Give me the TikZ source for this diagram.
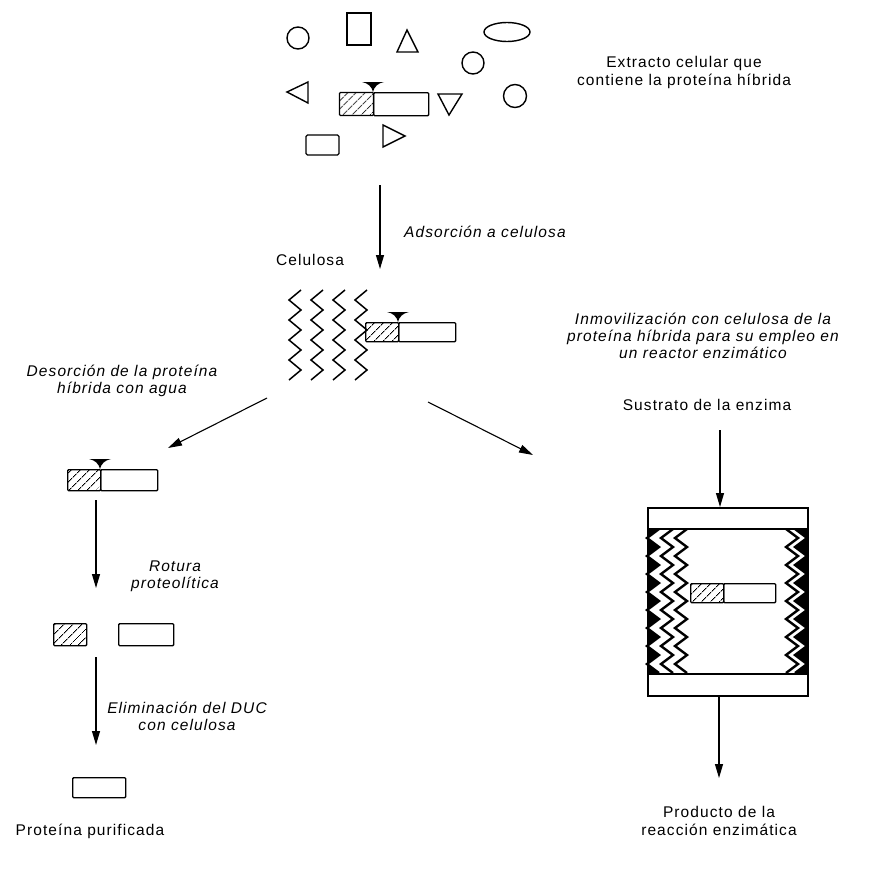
\documentclass[tikz,border=0pt]{standalone}
\usepackage{fontspec}
\setmainfont{Liberation Sans}[LetterSpace=7]
\usetikzlibrary{arrows.meta,patterns.meta}

% zigzag strand: xa (even steps), xb (odd steps), top y, step, number of steps
\newcommand\zzpath[5]{({#1},#3) \foreach \k in {1,...,#5}{ -- ({(#1)+((#2)-(#1))*mod(\k,2)},{(#3)+\k*(#4)}) }}
% anchoring tag on top of a hybrid protein, tip at (x,y)
\newcommand\tagtip[2]{\fill[shift={(#1,#2)}] (-11,-10) .. controls (-5,-9) and (-1,-5) .. (0,0) .. controls (1,-5) and (5,-9) .. (11,-10) -- cycle;}

\tikzset{
  shp/.style={line width=1.4pt},
  box/.style={draw, line width=1.4pt, rounded corners=1pt},
  hatchbox/.style={box, pattern={Lines[angle=45,distance=6.5pt,line width=1pt]}},
  arr/.style={line width=1.1pt, -{Triangle[length=14pt,width=8pt]}},
  lbl/.style={font=\fontsize{15.5}{18}\selectfont, align=center, inner sep=0pt},
  ilbl/.style={font=\fontsize{15.5}{17}\selectfont\itshape, align=center, inner sep=0pt},
  zig/.style={line width=1.5pt, line join=miter},
  thickzig/.style={line width=2.4pt, line join=miter}
}

\begin{document}
\begin{tikzpicture}[x=1pt,y=-1pt]
\useasboundingbox (0,0) rectangle (876,870);

% ---- cell extract: assorted proteins ----
\draw[shp] (298,38) circle (11);
\draw[shp] (347,13) rectangle (371,45);
\draw[shp] (407,30) -- (397,52) -- (418,52) -- cycle;
\draw[shp] (507,32) ellipse (23 and 9.5);
\draw[shp] (473,63) circle (11);
\draw[shp] (287,92) -- (308,82) -- (308,103) -- cycle;
\draw[shp] (438,94) -- (462,94) -- (449,115) -- cycle;
\draw[shp] (515,96) circle (11.5);
\draw[shp, rounded corners=1.5pt] (306,135) rectangle (339,155);
\draw[shp] (383,125) -- (405,136) -- (383,147) -- cycle;
% hybrid protein in the extract
\node[hatchbox, anchor=north west, minimum width=34pt, minimum height=23pt] (h0a) at (339,92) {};
\node[box, anchor=north west, minimum width=55pt, minimum height=23pt] (h0b) at (373,92) {};
\tagtip{373}{92}

\node[lbl] (ext) at (684,72) {Extracto celular que\\contiene la proteína híbrida};

% ---- adsorption step ----
\coordinate (a1s) at (380,185);
\coordinate (a1e) at (380,269);
\draw[arr] (a1s) -- (a1e);
\node[ilbl, anchor=west] (ads) at (404,232) {Adsorción a celulosa};
\node[lbl] (cel) at (310,260) {Celulosa};

% cellulose fibres with bound hybrid protein
\foreach \c in {295,317,339,361}{
  \draw[zig] \zzpath{\c+6}{\c-6}{290}{10}{9};
}
\node[hatchbox, anchor=north west, minimum width=33pt, minimum height=19pt] (h1a) at (365,322) {};
\node[box, anchor=north west, minimum width=57pt, minimum height=19pt] (h1b) at (398,322) {};
\tagtip{398}{322}

% ---- branch arrows ----
\coordinate (a2s) at (267,398);
\coordinate (a2e) at (168,448);
\draw[arr] (a2s) -- (a2e);
\coordinate (a3s) at (428,402);
\coordinate (a3e) at (533,455);
\draw[arr] (a3s) -- (a3e);

\node[ilbl] (des) at (122,381) {Desorción de la proteína\\híbrida con agua};
\node[ilbl] (inm) at (703,336) {Inmovilización con celulosa de la\\proteína híbrida para su empleo en\\un reactor enzimático};

% ---- left branch: purification ----
\node[hatchbox, anchor=north west, minimum width=33pt, minimum height=21pt] (h2a) at (67,469) {};
\node[box, anchor=north west, minimum width=57pt, minimum height=21pt] (h2b) at (100,469) {};
\tagtip{100}{469}

\coordinate (a4s) at (96,500);
\coordinate (a4e) at (96,588);
\draw[arr] (a4s) -- (a4e);
\node[ilbl] (rot) at (175,576) {Rotura\\proteolítica};

\node[hatchbox, anchor=north west, minimum width=33pt, minimum height=22pt] (duc) at (53,623) {};
\node[box, anchor=north west, minimum width=55pt, minimum height=22pt] (prot) at (118,623) {};

\coordinate (a5s) at (96,657);
\coordinate (a5e) at (96,745);
\draw[arr] (a5s) -- (a5e);
\node[ilbl] (eli) at (187,716) {Eliminación del DUC\\con celulosa};

\node[box, anchor=north west, minimum width=53pt, minimum height=20pt] (pure) at (72,777) {};
\node[lbl] (pur) at (90,831) {Proteína purificada};

% ---- right branch: enzyme reactor ----
\node[lbl] (sus) at (707,405) {Sustrato de la enzima};
\coordinate (a6s) at (720,430);
\coordinate (a6e) at (720,507);
\draw[arr] (a6s) -- (a6e);

\node[draw, line width=1.5pt, anchor=north west, minimum width=160pt, minimum height=188pt, inner sep=0pt] (reac) at (647,507) {};
\draw[line width=1.5pt] (647,529) -- (807,529);
\draw[line width=1.5pt] (647,674) -- (807,674);

% cellulose packed against the left wall
\fill \zzpath{659}{647}{529}{9}{16} -- (647,673) -- (647,529) -- cycle;
\foreach \o in {0,14,28}{
  \draw[thickzig] \zzpath{659+\o}{647+\o}{529}{9}{16};
}
% cellulose packed against the right wall
\fill \zzpath{795}{807}{529}{9}{16} -- (807,673) -- (807,529) -- cycle;
\draw[thickzig] \zzpath{795}{807}{529}{9}{16};
\draw[thickzig] \zzpath{786}{798}{529}{9}{16};

% immobilised hybrid protein
\node[hatchbox, anchor=north west, minimum width=33pt, minimum height=19pt] (h3a) at (690,583) {};
\node[box, anchor=north west, minimum width=52pt, minimum height=19pt] (h3b) at (723,583) {};

\coordinate (a7s) at (719,695);
\coordinate (a7e) at (719,778);
\draw[arr] (a7s) -- (a7e);
\node[lbl] (pro) at (719,821) {Producto de la\\reacción enzimática};

\end{tikzpicture}
\end{document}
